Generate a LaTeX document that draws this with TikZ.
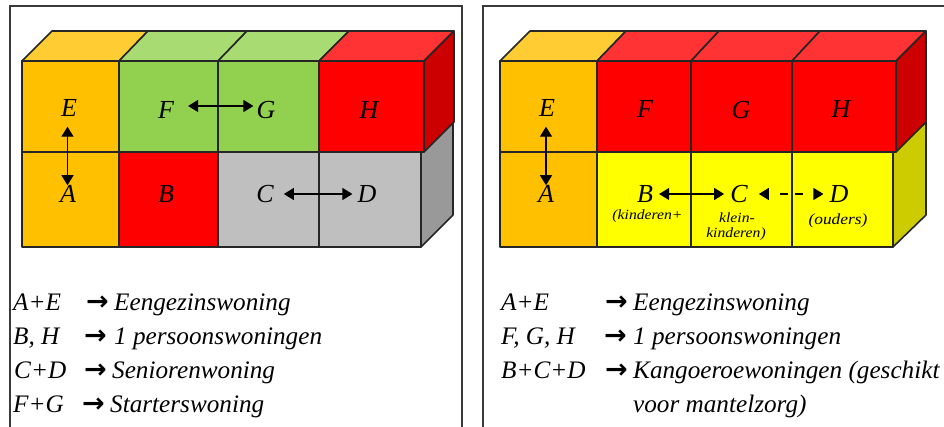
\documentclass[tikz,border=0pt]{standalone}
\usepackage{fontspec}
\setmainfont{Liberation Serif}
\newfontfamily\arrowfont{DejaVu Sans}
\usetikzlibrary{arrows.meta}
\definecolor{edgec}{HTML}{262626}
\definecolor{frameC}{HTML}{3A3A3A}
\definecolor{orF}{HTML}{FFC000}\definecolor{orT}{HTML}{FFCD33}
\definecolor{grF}{HTML}{92D050}\definecolor{grT}{HTML}{A8DC73}
\definecolor{reF}{HTML}{FF0000}\definecolor{reT}{HTML}{FF3333}\definecolor{reS}{HTML}{CC0000}
\definecolor{giF}{HTML}{BFBFBF}\definecolor{giS}{HTML}{999999}
\definecolor{yeF}{HTML}{FFFF00}\definecolor{yeS}{HTML}{CCCC00}
\tikzset{
  face/.style={draw=edgec,line width=1.6pt,line join=round},
  frameline/.style={draw=frameC,line width=2pt},
  letter/.style={font=\fontsize{26}{26}\selectfont\itshape,inner sep=0pt,text=black},
  sublabel/.style={font=\fontsize{#1}{#1}\selectfont\itshape,inner sep=0pt,text=black,xscale=1.12,transform shape},
  legend/.style={font=\fontsize{25.2}{25.2}\selectfont\itshape,inner sep=0pt,anchor=base west,text=black},
  legarrow/.style={font=\arrowfont\bfseries\fontsize{27}{27}\selectfont,inner sep=0pt,anchor=base west,text=black},
  link/.style={{Triangle[length=10pt,width=12pt]}-{Triangle[length=10pt,width=12pt]},line width=1.2pt,black},
  dlink/.style={link,dash pattern=on 8pt off 7pt on 8pt off 22pt,dash phase=34pt}
}
\begin{document}
\begin{tikzpicture}[x=1pt,y=-1pt]
\useasboundingbox (0,0) rectangle (944,427);
\fill[white] (0,0) rectangle (944,427);
% frames
\draw[frameline] (9.5,427) -- (9.5,6) -- (462,6) -- (462,427);
\draw[frameline] (482.5,427) -- (482.5,6) -- (944,6);
% left block: top faces
\path[face,fill=orT] (22,61) -- (52,31) -- (148,31) -- (119,61) -- cycle;
\path[face,fill=grT] (119,61) -- (148,31) -- (247,31) -- (218,61) -- cycle;
\path[face,fill=grT] (218,61) -- (247,31) -- (349,31) -- (319,61) -- cycle;
\path[face,fill=reT] (319,61) -- (349,31) -- (454,31) -- (424,61) -- cycle;
% left block: side faces
\path[face,fill=giS] (421,152) -- (453,122) -- (453,215) -- (421,247) -- cycle;
\path[face,fill=reS] (424,61) -- (454,31) -- (454,122) -- (424,152) -- cycle;
% left block: front faces
\path[face,fill=orF] (22,61) rectangle (119,152);
\path[face,fill=grF] (119,61) rectangle (218,152);
\path[face,fill=grF] (218,61) rectangle (319,152);
\path[face,fill=reF] (319,61) rectangle (424,152);
\path[face,fill=orF] (22,152) rectangle (119,247);
\path[face,fill=reF] (119,152) rectangle (218,247);
\path[face,fill=giF] (218,152) rectangle (319,247);
\path[face,fill=giF] (319,152) rectangle (421,247);
% right block: top faces
\path[face,fill=orT] (500,61) -- (530,31) -- (626,31) -- (597,61) -- cycle;
\path[face,fill=reT] (597,61) -- (626,31) -- (719,31) -- (691,61) -- cycle;
\path[face,fill=reT] (691,61) -- (719,31) -- (820,31) -- (792,61) -- cycle;
\path[face,fill=reT] (792,61) -- (820,31) -- (926,31) -- (896,61) -- cycle;
% right block: side faces
\path[face,fill=yeS] (893,152) -- (926,122) -- (926,215) -- (893,247) -- cycle;
\path[face,fill=reS] (896,61) -- (926,31) -- (926,122) -- (896,152) -- cycle;
% right block: front faces
\path[face,fill=orF] (500,61) rectangle (597,152);
\path[face,fill=reF] (597,61) rectangle (691,152);
\path[face,fill=reF] (691,61) rectangle (792,152);
\path[face,fill=reF] (792,61) rectangle (896,152);
\path[face,fill=orF] (500,152) rectangle (597,247);
\path[face,fill=yeF] (597,152) rectangle (691,247);
\path[face,fill=yeF] (691,152) rectangle (792,247);
\path[face,fill=yeF] (792,152) rectangle (893,247);
% letters, left
\node[letter] (lE) at (69,108) {E};
\node[letter] (lF) at (166,110) {F};
\node[letter] (lG) at (266,110) {G};
\node[letter] (lH) at (369,110) {H};
\node[letter] (lA) at (68,194) {A};
\node[letter] (lB) at (166,194) {B};
\node[letter] (lC) at (265,194) {C};
\node[letter] (lD) at (367,194) {D};
% letters, right
\node[letter] (rE) at (547,108) {E};
\node[letter] (rF) at (645,109) {F};
\node[letter] (rG) at (741,110) {G};
\node[letter] (rH) at (841,109) {H};
\node[letter] (rA) at (546,194) {A};
\node[letter] (rB) at (645,194) {B};
\node[letter] (rC) at (739,194) {C};
\node[letter] (rD) at (839,194) {D};
\node[sublabel=14] (s1) at (647.5,216) {(kinderen+};
\node[sublabel=14] (s2) at (737,218) {klein-};
\node[sublabel=14] (s3) at (736,234) {kinderen)};
\node[sublabel=15.5] (s4) at (838,220.5) {(ouders)};
% links
\draw[link] ([xshift=-1.5pt,yshift=-10pt]lE.south) -- ([xshift=-.5pt]lA.north);
\draw[link] ([xshift=14pt,yshift=4pt]lF.east) -- ([xshift=-3pt,yshift=4pt]lG.west);
\draw[link] ([xshift=10pt]lC.east) -- ([xshift=-5pt]lD.west);
\draw[link] ([xshift=-1pt,yshift=-10pt]rE.south) -- (rA.north);
\draw[link] ([xshift=6pt]rB.east) -- ([xshift=-6pt]rC.west);
\draw[dlink] ([xshift=11pt]rC.east) -- ([xshift=-6pt]rD.west);
% legend left
\node[legend] (l1a) at (13,310) {A+E};
\node[legarrow] (l1b) at (86,310) {→};
\node[legend] (l1c) at (114,310) {Eengezinswoning};
\node[legend] (l2a) at (13,344) {B, H};
\node[legarrow] (l2b) at (84,344) {→};
\node[legend] (l2c) at (114,344) {1 persoonswoningen};
\node[legend] (l3a) at (14,378) {C+D};
\node[legarrow] (l3b) at (84,378) {→};
\node[legend] (l3c) at (112,378) {Seniorenwoning};
\node[legend] (l4a) at (13,412) {F+G};
\node[legarrow] (l4b) at (82,412) {→};
\node[legend] (l4c) at (110,412) {Starterswoning};
% legend right
\node[legend] (r1a) at (501,310) {A+E};
\node[legarrow] (r1b) at (605,310) {→};
\node[legend] (r1c) at (633,310) {Eengezinswoning};
\node[legend] (r2a) at (501,344) {F, G, H};
\node[legarrow] (r2b) at (604,344) {→};
\node[legend] (r2c) at (633,344) {1 persoonswoningen};
\node[legend] (r3a) at (501,378) {B+C+D};
\node[legarrow] (r3b) at (605,378) {→};
\node[legend] (r3c) at (633,378) {Kangoeroewoningen (geschikt};
\node[legend] (r4c) at (633,412) {voor mantelzorg)};
\end{tikzpicture}
\end{document}
